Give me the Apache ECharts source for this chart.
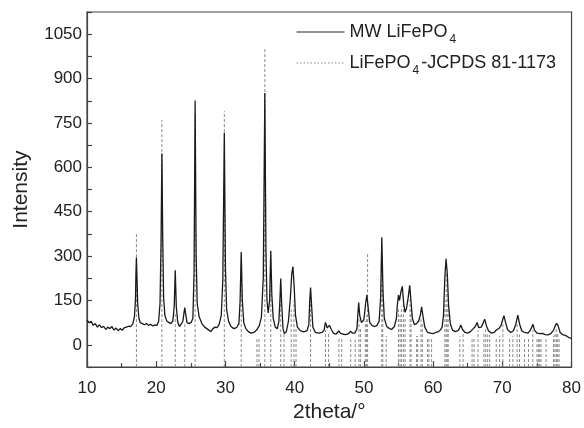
<!DOCTYPE html>
<html>
<head>
<meta charset="utf-8">
<script src="https://cdn.jsdelivr.net/npm/echarts@6/dist/echarts.min.js"></script>
<style>
  html, body { margin: 0; padding: 0; background: #fff; }
  #chart { width: 584px; height: 428px; }
</style>
</head>
<body>
<div id="chart"></div>
<script>
// measured pattern, MW LiFePO4  [2theta, intensity]
var mwPattern = [
  [10.0,84],[10.3,75],[10.6,80],[10.9,66],[11.2,72],[11.5,60],[11.8,68],[12.1,58],[12.4,63],[12.7,52],
  [13.0,60],[13.3,55],[13.6,62],[13.9,50],[14.2,57],[14.5,48],[14.8,55],[15.1,50],[15.4,58],[15.7,60],
  [16.0,63],[16.3,62],[16.6,70],[16.85,95],[17.0,150],[17.07,240],[17.14,295],[17.22,230],[17.32,140],[17.5,90],
  [17.7,75],[18.0,72],[18.3,68],[18.6,72],[18.9,66],[19.2,70],[19.5,64],[19.8,68],[20.1,66],[20.35,80],
  [20.55,140],[20.7,350],[20.82,647],[20.94,360],[21.07,160],[21.25,100],[21.5,82],[21.8,76],[22.1,72],[22.4,80],
  [22.6,130],[22.75,252],[22.9,130],[23.1,78],[23.35,62],[23.6,70],[23.85,80],[24.02,110],[24.13,126],[24.25,105],
  [24.45,75],[24.75,72],[25.05,76],[25.3,90],[25.47,250],[25.62,826],[25.77,300],[25.92,140],[26.2,95],[26.6,72],
  [27.0,60],[27.3,55],[27.6,50],[27.9,45],[28.2,55],[28.5,60],[28.8,58],[29.1,70],[29.4,100],[29.62,220],
  [29.84,717],[30.0,260],[30.17,120],[30.45,80],[30.8,62],[31.2,55],[31.6,58],[31.95,72],[32.12,150],[32.28,314],
  [32.44,150],[32.65,75],[32.95,55],[33.3,45],[33.7,40],[34.1,42],[34.5,50],[34.9,65],[35.2,95],[35.47,230],
  [35.69,851],[35.85,320],[36.0,150],[36.17,108],[36.38,150],[36.55,318],[36.7,170],[36.9,90],[37.2,60],[37.5,55],
  [37.72,80],[37.85,140],[37.99,224],[38.12,140],[38.32,55],[38.52,38],[38.8,45],[39.1,80],[39.38,160],[39.58,240],
  [39.75,265],[39.92,200],[40.12,100],[40.4,60],[40.8,48],[41.3,44],[41.8,48],[42.05,70],[42.18,150],[42.3,194],
  [42.43,140],[42.63,60],[43.0,42],[43.5,40],[43.95,42],[44.25,50],[44.45,76],[44.7,58],[45.03,66],[45.3,52],
  [45.6,40],[45.95,36],[46.2,38],[46.37,47],[46.6,40],[47.0,36],[47.4,35],[47.8,38],[48.05,46],[48.35,40],
  [48.7,40],[49.0,55],[49.12,100],[49.25,143],[49.4,100],[49.65,75],[50.0,85],[50.25,140],[50.43,168],[50.6,130],
  [50.85,75],[51.2,65],[51.6,62],[51.9,66],[52.2,80],[52.42,160],[52.59,364],[52.76,180],[52.95,90],[53.3,62],
  [53.7,55],[54.0,52],[54.4,62],[54.7,90],[54.85,140],[55.0,168],[55.15,150],[55.35,180],[55.55,198],[55.75,140],
  [55.95,110],[56.15,123],[56.4,160],[56.62,201],[56.8,150],[57.0,90],[57.3,68],[57.6,72],[57.9,80],[58.15,100],
  [58.34,129],[58.55,95],[58.8,60],[59.2,42],[59.6,40],[60.0,38],[60.4,42],[60.8,45],[61.1,52],[61.3,60],
  [61.5,100],[61.7,230],[61.87,291],[62.05,240],[62.25,130],[62.5,70],[62.8,50],[63.2,45],[63.6,48],[63.8,55],
  [64.0,67],[64.25,52],[64.6,42],[65.0,40],[65.4,45],[65.8,55],[66.1,62],[66.35,76],[66.6,58],[66.95,60],
  [67.2,72],[67.45,87],[67.7,65],[68.0,48],[68.4,40],[68.8,42],[69.2,52],[69.5,55],[69.8,65],[70.05,85],
  [70.23,99],[70.45,78],[70.75,52],[71.2,42],[71.6,48],[71.95,70],[72.24,101],[72.5,70],[72.8,48],[73.2,42],
  [73.45,47],[73.7,40],[74.0,48],[74.25,60],[74.42,70],[74.65,50],[75.0,40],[75.4,38],[75.83,39],[76.2,35],
  [76.6,34],[77.0,38],[77.4,50],[77.65,65],[77.85,73],[78.05,65],[78.35,42],[78.7,35],[79.0,33],[79.3,30],
  [79.6,25],[80.0,22]
];

// JCPDS 81-1173 reference lines
var refPositions = [
  17.14, 20.82, 22.75, 24.13, 25.62, 29.84, 32.28, 34.55, 34.85, 35.69,
  36.55, 37.99, 38.46, 39.5, 39.9, 40.2, 42.3, 44.45, 44.9, 46.4,
  46.8, 48.1, 48.75, 49.29, 49.5, 50.2, 50.4, 50.54, 52.59, 52.73,
  53.22, 54.99, 55.23, 55.42, 55.71, 55.95, 56.67, 56.82, 57.62, 57.77,
  58.25, 58.44, 59.2, 59.4, 59.78, 61.7, 61.89, 62.03, 62.18, 63.86,
  64.33, 65.63, 65.92, 66.49, 67.35, 67.6, 67.88, 68.17, 69.12, 69.61,
  70.08, 71.05, 71.52, 72.14, 72.48, 73.2, 73.78, 74.4, 75.01, 75.2,
  75.4, 75.59, 76.31, 77.4, 77.6, 77.8, 78.0, 78.2
];
var refHeights = [
  380, 760, 110, 70, 780, 790, 280, 25, 25, 1000,
  200, 150, 40, 120, 150, 60, 150, 50, 40, 22,
  22, 18, 18, 90, 60, 80, 100, 308, 300, 200,
  30, 120, 100, 130, 150, 90, 160, 120, 30, 30,
  90, 70, 25, 25, 25, 150, 240, 200, 120, 30,
  40, 25, 25, 50, 40, 60, 35, 35, 25, 30,
  70, 25, 30, 70, 35, 25, 25, 50, 25, 25,
  25, 25, 25, 30, 45, 55, 40, 25
];

var yLabels = [0, 150, 300, 450, 600, 750, 900, 1050];
var yMin = -75, yMax = 1125;

// every reference line runs from the bottom of the frame up to its height
var refData = [];
for (var i = 0; i < refPositions.length; i++) {
  refData.push([refPositions[i], yMin]);
  refData.push([refPositions[i], refHeights[i]]);
  refData.push([refPositions[i], '-']);
}

var font = "'Liberation Sans', Arial, sans-serif";
var subFmt = function (name) {
  return name.replace('PO4', 'PO{sub|4}');
};

var chart = echarts.init(document.getElementById('chart'));
chart.setOption({
  animation: false,
  grid: {
    left: 87, right: 10, top: 12, bottom: 59,
    show: true, borderColor: '#444', borderWidth: 1.2
  },
  legend: {
    orient: 'vertical',
    left: 296,
    top: 21,
    padding: 0,
    itemWidth: 48,
    itemHeight: 14,
    itemGap: 6,
    itemStyle: { opacity: 0 },
    data: [
      { name: 'MW LiFePO4', lineStyle: { color: '#222', width: 1 } },
      { name: 'LiFePO4-JCPDS 81-1173', lineStyle: { type: [1.5, 2], color: '#888', width: 1 } }
    ],
    formatter: subFmt,
    textStyle: {
      fontFamily: font, fontSize: 18, color: '#222', lineHeight: 22,
      rich: {
        sub: { fontFamily: font, fontSize: 12, color: '#222', lineHeight: 12, verticalAlign: 'bottom', padding: [0, 2, -3, 2] }
      }
    }
  },
  xAxis: {
    type: 'value',
    min: 10, max: 80, interval: 10,
    name: '2theta/°',
    nameLocation: 'middle',
    nameGap: 33,
    nameTextStyle: { fontFamily: font, fontSize: 21, color: '#222' },
    axisLine: { onZero: false, lineStyle: { color: '#444', width: 1.2 } },
    axisTick: { inside: true, length: 6, lineStyle: { color: '#444', width: 1.2 } },
    minorTick: { show: true, splitNumber: 2, length: 4, lineStyle: { color: '#444', width: 1.2 } },
    axisLabel: { fontFamily: font, fontSize: 17, color: '#222', margin: 13 },
    splitLine: { show: false }
  },
  yAxis: {
    type: 'value',
    min: yMin, max: yMax, interval: 75,
    name: 'Intensity',
    nameLocation: 'middle',
    nameGap: 55,
    nameTextStyle: { fontFamily: font, fontSize: 21, color: '#222' },
    axisLine: { show: true, onZero: false, lineStyle: { color: '#444', width: 1.2 } },
    axisTick: { inside: true, length: 5, lineStyle: { color: '#444', width: 1.2 } },
    axisLabel: {
      fontFamily: font, fontSize: 17, color: '#222', margin: 5,
      formatter: function (v) { return yLabels.indexOf(v) >= 0 ? String(v) : ''; }
    },
    splitLine: { show: false }
  },
  series: [
    {
      name: 'LiFePO4-JCPDS 81-1173',
      type: 'line',
      data: refData,
      symbol: 'none',
      connectNulls: false,
      itemStyle: { color: '#888' },
      lineStyle: { color: '#888', width: 1, type: [3, 2] }
    },
    {
      name: 'MW LiFePO4',
      type: 'line',
      data: mwPattern,
      symbol: 'none',
      itemStyle: { color: '#1a1a1a' },
      lineStyle: { color: '#1a1a1a', width: 1.3 }
    }
  ]
});
</script>
</body>
</html>
